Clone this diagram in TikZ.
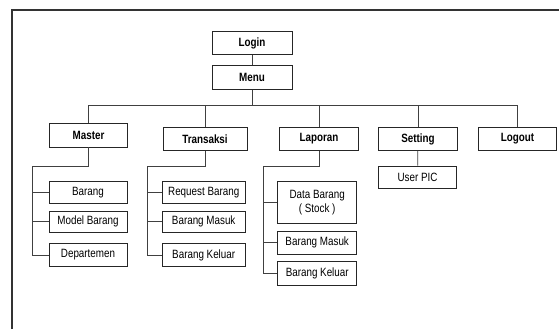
\documentclass[tikz,border=0pt]{standalone}
\usepackage{fontspec}
\setmainfont{Liberation Sans}[FakeStretch=0.82]
\usetikzlibrary{positioning}

\tikzset{
  menubox/.style={draw=black!85, line width=0.8pt, inner sep=0pt,
    minimum height=22.6pt, font=\fontsize{12}{13.5}\selectfont\bfseries},
  itembox/.style={draw=black!85, line width=0.8pt, inner sep=0pt,
    align=center, font=\fontsize{12}{13.5}\selectfont},
  link/.style={draw=black!75, line width=0.7pt}
}

\begin{document}
\begin{tikzpicture}[x=1pt,y=-1pt]

  \useasboundingbox (0,0) rectangle (559,329);

  \def\levone{139}; % level 1
  \def\rowa{192.7};
  \def\rowb{221.8};
  \def\rowc{255};

  % frame
  \draw[black!80, line width=1.2pt] (12,329) -- (12,10) -- (559,10);

  \node[menubox, minimum width=80pt] (login) at (252,43) {Login};
  \node[menubox, minimum width=80pt, minimum height=23.6pt] (menu) at (252,77.5) {Menu};
  \draw[link] (login) -- (menu);

  \node[menubox, minimum width=78pt, minimum height=23.3pt] (master) at (88.5,135.3) {Master};
  \node[menubox, minimum width=84pt] (transaksi) at (205,\levone) {Transaksi};
  \node[menubox, minimum width=79pt] (laporan) at (319,\levone) {Laporan};
  \node[menubox, minimum width=78.4pt] (setting) at (418,\levone) {Setting};
  \node[menubox, minimum width=78.6pt] (logout) at (517.5,\levone) {Logout};

  \coordinate (bus) at (252,105);
  \draw[link] (menu) -- (bus);
  \draw[link] (master.north) -- (master.north |- bus) -- (logout.north |- bus) -- (logout.north);
  \draw[link] (transaksi.north) -- (transaksi.north |- bus);
  \draw[link] (laporan.north) -- (laporan.north |- bus);
  \draw[link] (setting.north) -- (setting.north |- bus);

  % master
  \node[itembox, minimum width=78pt, minimum height=22pt] (barang) at (88,\rowa) {Barang};
  \node[itembox, minimum width=78pt, minimum height=20.3pt] (model) at (88,\rowb) {Model Barang};
  \node[itembox, minimum width=78pt, minimum height=23.4pt] (departemen) at (88,\rowc) {Departemen};
  \coordinate (mst) at (32.3,166.5);
  \draw[link] (master) -- (master |- mst) -- (mst) -- (mst |- departemen) -- (departemen);
  \draw[link] (mst |- barang) -- (barang);
  \draw[link] (mst |- model) -- (model);

  % transaksi
  \node[itembox, minimum width=83.3pt, minimum height=22pt] (request) at (203.7,\rowa) {Request Barang};
  \node[itembox, minimum width=83.3pt, minimum height=20.3pt] (tmasuk) at (203.7,\rowb) {Barang Masuk};
  \node[itembox, minimum width=83.3pt, minimum height=23.4pt] (tkeluar) at (203.7,\rowc) {Barang Keluar};
  \coordinate (trx) at (147,166.5);
  \draw[link] (transaksi) -- (transaksi |- trx) -- (trx) -- (trx |- tkeluar) -- (tkeluar);
  \draw[link] (trx |- request) -- (request);
  \draw[link] (trx |- tmasuk) -- (tmasuk);

  % laporan
  \node[itembox, minimum width=79pt, minimum height=41.6pt] (stock) at (317.2,202.5) {Data Barang\\( Stock )};
  \node[itembox, minimum width=79pt, minimum height=23pt] (lmasuk) at (317.2,242.5) {Barang Masuk};
  \node[itembox, minimum width=79pt, minimum height=23.3pt] (lkeluar) at (317.2,273.3) {Barang Keluar};
  \coordinate (lap) at (263.3,166.5);
  \draw[link] (laporan) -- (laporan |- lap) -- (lap) -- (lap |- lkeluar) -- (lkeluar);
  \draw[link] (lap |- stock) -- (stock);
  \draw[link] (lap |- lmasuk) -- (lmasuk);

  % setting
  \node[itembox, minimum width=78.4pt, minimum height=22.7pt] (userpic) at (417.5,177.3) {User PIC};
  \draw[link] (setting) -- (userpic);

\end{tikzpicture}
\end{document}
